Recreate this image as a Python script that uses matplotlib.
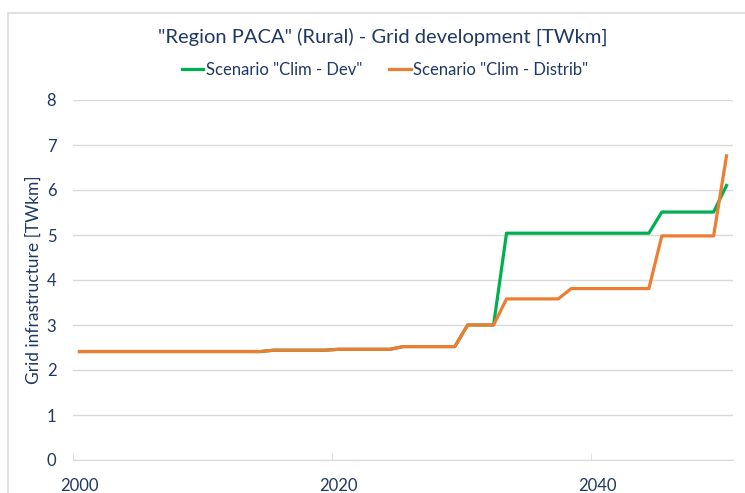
import matplotlib.pyplot as plt
from matplotlib.patches import Rectangle

years = list(range(2000, 2051))
clim_dev = [2.41, 2.41, 2.41, 2.41, 2.41, 2.41, 2.41, 2.41, 2.41, 2.41,
            2.41, 2.41, 2.41, 2.41, 2.41, 2.44, 2.44, 2.44, 2.44, 2.44,
            2.46, 2.46, 2.46, 2.46, 2.46, 2.52, 2.52, 2.52, 2.52, 2.52,
            3.00, 3.00, 3.00, 5.04, 5.04, 5.04, 5.04, 5.04, 5.04, 5.04,
            5.04, 5.04, 5.04, 5.04, 5.04, 5.51, 5.51, 5.51, 5.51, 5.51,
            6.10]
clim_distrib = [2.41, 2.41, 2.41, 2.41, 2.41, 2.41, 2.41, 2.41, 2.41, 2.41,
                2.41, 2.41, 2.41, 2.41, 2.41, 2.44, 2.44, 2.44, 2.44, 2.44,
                2.46, 2.46, 2.46, 2.46, 2.46, 2.52, 2.52, 2.52, 2.52, 2.52,
                3.00, 3.00, 3.00, 3.58, 3.58, 3.58, 3.58, 3.58, 3.81, 3.81,
                3.81, 3.81, 3.81, 3.81, 3.81, 4.98, 4.98, 4.98, 4.98, 4.98,
                6.76]
year_labels = [2000, 2020, 2040]
y_ticks = [0, 1, 2, 3, 4, 5, 6, 7, 8]

navy = '#1F3864'
grid_col = '#D9D9D9'
plt.rcParams['font.family'] = ['Lato', 'DejaVu Sans']

fig = plt.figure(figsize=(7.45, 4.93), dpi=100)
ax = fig.add_axes([73 / 745, 1 - 460 / 493, 660 / 745, 360 / 493])

# outer chart frame (cut off at right and bottom)
fig.patches.append(Rectangle((8 / 745, -0.1), 1.2, 1.1 - 13 / 493,
                             transform=fig.transFigure, fill=False,
                             edgecolor=grid_col, linewidth=1.2))

ax.plot(years, clim_dev, color='#00B050', lw=2.3, label='Scenario "Clim - Dev"')
ax.plot(years, clim_distrib, color='#ED7D31', lw=2.3, label='Scenario "Clim - Distrib"')

ax.set_xlim(1999.5, 2050.5)
ax.set_ylim(0, 8)
ax.set_yticks(y_ticks)
ax.set_xticks(year_labels)
ax.set_xticks([1999.5, 2019.5, 2039.5], minor=True)
ax.tick_params(axis='x', which='major', length=0, pad=13, labelsize=12, labelcolor=navy)
ax.tick_params(axis='x', which='minor', direction='in', length=5, color=grid_col)
ax.tick_params(axis='y', length=0, pad=12, labelsize=12, labelcolor=navy)

ax.grid(axis='y', color=grid_col, lw=1)
ax.set_axisbelow(True)
for s in ['top', 'right', 'left']:
    ax.spines[s].set_visible(False)
ax.spines['bottom'].set_color(grid_col)

ax.set_ylabel('Grid infrastructure [TWkm]', color=navy, fontsize=12.5)
ax.yaxis.set_label_coords(-31 / 660, 0.5)

fig.text(383 / 745, 1 - 37 / 493, '"Region PACA" (Rural) - Grid development [TWkm]',
         ha='center', va='center', color=navy, fontsize=14.5)
fig.legend(loc='center', bbox_to_anchor=(385 / 745, 1 - 70 / 493), ncol=2,
           frameon=False, fontsize=12, labelcolor=navy, handlelength=1.3,
           handletextpad=0.15, columnspacing=1.6)

fig.savefig('out.png', dpi=100)
